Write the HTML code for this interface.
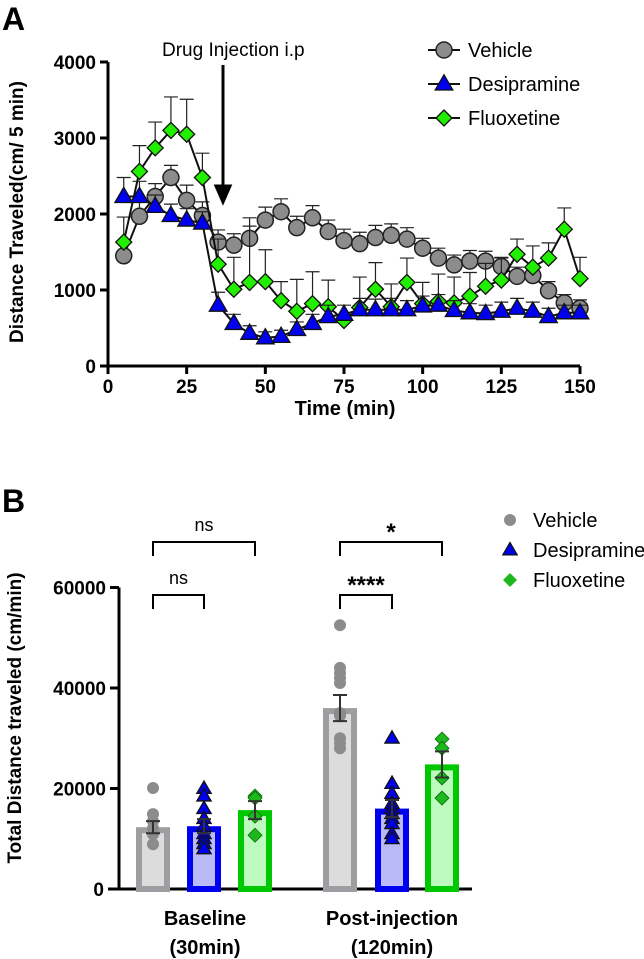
<!DOCTYPE html>
<html><head><meta charset="utf-8"><style>
body{margin:0;background:#fff;}
svg{display:block;font-family:"Liberation Sans",Arial,sans-serif;}
</style></head><body>
<svg id="fig" width="644" height="959" viewBox="0 0 644 959" xmlns="http://www.w3.org/2000/svg">
<text x="2" y="30" font-size="32" font-weight="bold">A</text>
<text x="2" y="512" font-size="32" font-weight="bold">B</text>
<g id="gA"></g>
<g id="gB"></g>
</svg>
<script>
const times=[5,10,15,20,25,30,35,40,45,50,55,60,65,70,75,80,85,90,95,100,105,110,115,120,125,130,135,140,145,150];
const vehicle=[1450,1970,2230,2480,2180,1980,1630,1590,1680,1920,2030,1820,1950,1770,1650,1610,1690,1720,1670,1550,1420,1330,1380,1380,1310,1180,1190,990,830,760];
const vehicleErr=[0,230,170,160,200,180,160,150,160,170,170,150,160,150,150,150,160,150,150,130,130,130,140,130,120,120,110,120,110,110];
const desipramine=[2230,2230,2100,1980,1920,1880,800,560,430,370,390,480,560,650,680,740,740,740,740,790,800,730,700,690,720,760,720,650,700,700];
const desipramineErr=[250,200,150,150,150,150,170,120,100,80,80,100,120,150,120,150,140,150,120,130,140,130,120,110,120,130,120,110,100,100];
const fluoxetine=[1630,2560,2870,3100,3050,2480,1340,1010,1100,1110,860,720,820,780,600,770,1010,780,1100,820,850,830,920,1050,1130,1470,1300,1420,1800,1150];
const fluoxetineErr=[330,340,340,440,460,320,330,420,850,420,250,420,420,350,0,400,350,300,320,280,360,340,310,300,290,200,280,200,280,280];
const yTicksA=[0,1000,2000,3000,4000];
const xTicksA=[0,25,50,75,100,125,150];

const groups=["Baseline","Post-injection"];
const groupSub=["(30min)","(120min)"];
const seriesNames=["Vehicle","Desipramine","Fluoxetine"];
const barMeans=[[12300,12500,15700],[36000,16000,24800]];
const barErr=[[1200,1400,1800],[2600,1700,2600]];
const pts_base_veh=[20100,14900,13500,12100,10900,8900];
const pts_base_des=[20000,18500,16000,14000,12500,11000,10000,9000,8000];
const pts_base_flu=[18500,18100,14500,10700];
const pts_post_veh=[52500,44000,43000,42000,41000,35000,34500,30000,29000,28000];
const pts_post_des=[30000,21000,19000,17000,16000,15000,14000,13000,11000,10000];
const pts_post_flu=[29850,28000,22100,18100];
const yTicksB=[0,20000,40000,60000];

const NS="http://www.w3.org/2000/svg";
function mk(parent,tag,attrs,text){const e=document.createElementNS(NS,tag);for(const k in attrs)e.setAttribute(k,attrs[k]);if(text!==undefined)e.textContent=text;parent.appendChild(e);return e;}

// ---- Chart A ----
const gA=document.getElementById('gA');
const xA=v=>108+v*(472/150);
const yA=v=>366-v*0.076;
const ax=mk(gA,'path',{d:`M108,${yA(4000)}V366H${xA(150)}`,stroke:'#000','stroke-width':3,fill:'none'});


yTicksA.forEach(t=>{
  const l=mk(gA,'line',{x1:100,x2:108,y1:yA(t),y2:yA(t),stroke:'#000','stroke-width':3});
  
  
  const tx=mk(gA,'text',{x:96,y:yA(t)+7,'text-anchor':'end','font-size':19,'font-weight':'bold'},String(t));
  
  
});
xTicksA.forEach(t=>{
  const l=mk(gA,'line',{x1:xA(t),x2:xA(t),y1:366,y2:374,stroke:'#000','stroke-width':3});
  
  
  const tx=mk(gA,'text',{x:xA(t),y:393,'text-anchor':'middle','font-size':19,'font-weight':'bold'},String(t));
  
  
});
const xl=mk(gA,'text',{x:345,y:415,'text-anchor':'middle','font-size':20,'font-weight':'bold'},'Time (min)');


const yl=mk(gA,'text',{x:0,y:0,transform:'translate(23,212) rotate(-90)','text-anchor':'middle','font-size':19,'font-weight':'bold'},'Distance Traveled(cm/ 5 min)');


const ann=mk(gA,'text',{x:162,y:56,'font-size':19},'Drug Injection i.p');


const arr=mk(gA,'path',{d:'M223,65V188M216,186L223,202L230,186Z',stroke:'#000','stroke-width':3,fill:'#000'});



function marker(g,type,x,y,s){
  if(type==='circle') return mk(g,'circle',{cx:x,cy:y,r:s,fill:'#8c8c8c',stroke:'#222','stroke-width':1.5});
  if(type==='tri') return mk(g,'path',{d:`M${x},${y-s*1.15}L${x+s*1.1},${y+s*0.75}L${x-s*1.1},${y+s*0.75}Z`,fill:'#0000f0',stroke:'#111','stroke-width':1.3});
  return mk(g,'path',{d:`M${x},${y-s}L${x+s},${y}L${x},${y+s}L${x-s},${y}Z`,fill:'#22ee00',stroke:'#111','stroke-width':1.3});
}
function drawSeries(name,vals,errs,type){
  const g=mk(gA,'g',{});
  
  
  vals.forEach((v,i)=>{ if(errs[i]>0){
    const e=mk(g,'path',{d:`M${xA(times[i])},${yA(v)}V${yA(v+errs[i])}M${xA(times[i])-7},${yA(v+errs[i])}H${xA(times[i])+7}`,stroke:'#222','stroke-width':1.2,fill:'none'});
    
    }
  });
  const l=mk(g,'polyline',{points:vals.map((v,i)=>xA(times[i])+','+yA(v)).join(' '),fill:'none',stroke:'#111','stroke-width':2});
  
  
  vals.forEach((v,i)=>{const m=marker(g,type,xA(times[i]),yA(v),8);
    
    });
}
drawSeries('vehicle',vehicle,vehicleErr,'circle');
drawSeries('fluoxetine',fluoxetine,fluoxetineErr,'dia');
drawSeries('desipramine',desipramine,desipramineErr,'tri');

const legTypes=['circle','tri','dia'];
seriesNames.forEach((n,i)=>{
  const g=mk(gA,'g',{});
  
  
  const y=50+i*34;
  mk(g,'line',{x1:428,x2:460,y1:y,y2:y,stroke:'#111','stroke-width':2});
  marker(g,legTypes[i],444,y,8);
  mk(g,'text',{x:468,y:y+7,'font-size':20},n);
});

// ---- Chart B ----
const gB=document.getElementById('gB');
const yB=v=>889-v*(301.5/60000);
const bx=[[153,204,255],[340,392,442]];
const axB=mk(gB,'path',{d:`M119,${yB(60000)}V889M108,889H472`,stroke:'#000','stroke-width':3,fill:'none'});


yTicksB.forEach(t=>{
  if(t>0){const l=mk(gB,'line',{x1:110,x2:119,y1:yB(t),y2:yB(t),stroke:'#000','stroke-width':3});
  
  }
  const tx=mk(gB,'text',{x:t>0?106:104,y:yB(t)+7,'text-anchor':'end','font-size':19,'font-weight':'bold'},String(t));
  
  
});
const ylb=mk(gB,'text',{x:0,y:0,transform:'translate(21,718) rotate(-90)','text-anchor':'middle','font-size':19,'font-weight':'bold'},'Total Distance traveled (cm/min)');


groups.forEach((gname,gi)=>{
  const cx=gi===0?205:392;
  const t1=mk(gB,'text',{x:cx,y:925,'text-anchor':'middle','font-size':20,'font-weight':'bold'},gname);
  
  
  const t2=mk(gB,'text',{x:cx,y:954,'text-anchor':'middle','font-size':20,'font-weight':'bold'},groupSub[gi]);
  
  
});
const borders=['#9d9da2','#0000f0','#00c800'];
const fills=['#dcdcdc','#babaf8','#bdfabd'];
const pts=[[pts_base_veh,pts_base_des,pts_base_flu],[pts_post_veh,pts_post_des,pts_post_flu]];
for(let gi=0;gi<2;gi++)for(let si=0;si<3;si++){
  const x=bx[gi][si],m=barMeans[gi][si];
  const r=mk(gB,'rect',{x:x-14,y:yB(m)+3,width:28,height:889-yB(m)-3,fill:fills[si],stroke:borders[si],'stroke-width':6});
  
  
  pts[gi][si].forEach(v=>{
    let m2;
    if(si===0) m2=mk(gB,'circle',{cx:x,cy:yB(v),r:6,fill:'#8c8c8c'});
    else if(si===1) m2=marker(gB,'tri',x,yB(v),6.5);
    else m2=mk(gB,'path',{d:`M${x},${yB(v)-7}L${x+7},${yB(v)}L${x},${yB(v)+7}L${x-7},${yB(v)}Z`,fill:'#1db81d',stroke:'#0a6a0a','stroke-width':0.8});
    
    
  });
  const e=barErr[gi][si];
  const eb=mk(gB,'path',{d:`M${x},${yB(m-e)}V${yB(m+e)}M${x-7},${yB(m+e)}H${x+7}M${x-7},${yB(m-e)}H${x+7}`,stroke:'#333','stroke-width':2,fill:'none'});
  
  
}
function bracket(x1,x2,y,label,star){
  const p=mk(gB,'path',{d:`M${x1},${y+14}V${y}H${x2}V${y+14}`,stroke:'#000','stroke-width':2,fill:'none'});
  
  
  const t=mk(gB,'text',{x:(x1+x2)/2,y:star?y-2:y-11,'text-anchor':'middle','font-size':star?24:18,'font-weight':star?'bold':'normal'},label);
  
  
}
bracket(153,255,542,'ns',false);
bracket(153,204,595,'ns',false);
bracket(340,442,542,'*',true);
bracket(340,392,595,'****',true);
seriesNames.forEach((n,i)=>{
  const g=mk(gB,'g',{});
  
  
  const y=520+i*30;
  if(i===0) mk(g,'circle',{cx:510,cy:y,r:6,fill:'#8c8c8c'});
  else if(i===1) marker(g,'tri',510,y,6.5);
  else mk(g,'path',{d:`M510,${y-7}L517,${y}L510,${y+7}L503,${y}Z`,fill:'#1db81d'});
  mk(g,'text',{x:533,y:y+7,'font-size':20},n);
});
</script>
</body></html>
